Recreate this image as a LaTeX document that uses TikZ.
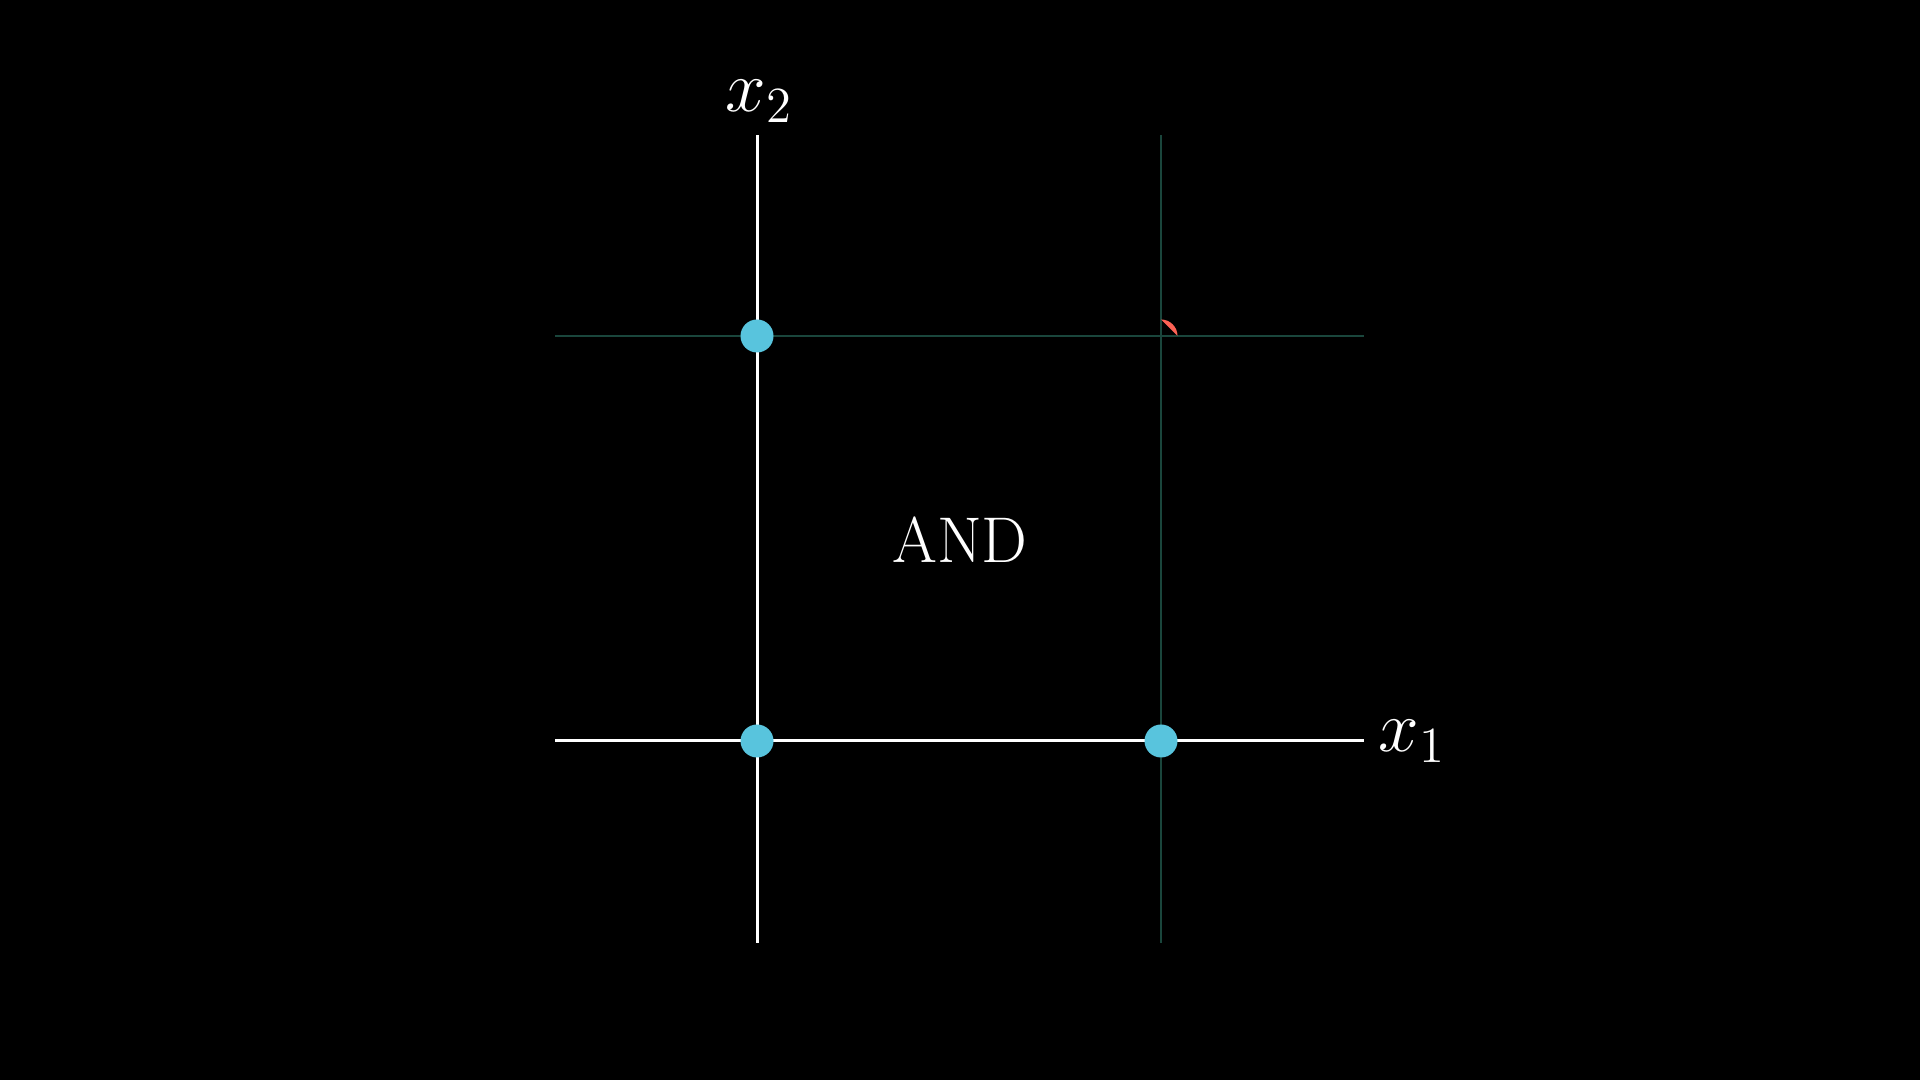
\documentclass[tikz,border=0pt]{standalone}
\usetikzlibrary{positioning}
\definecolor{dotblue}{HTML}{58C4DD}
\definecolor{dotred}{HTML}{FC6255}
\definecolor{gridgreen}{HTML}{1A463C}
\tikzset{
  axis/.style={draw=white, line width=0.85pt},
  gridline/.style={draw=gridgreen, line width=0.6pt},
  pt/.style={circle, fill=#1, inner sep=0pt, minimum size=0.33cm},
  pt/.default=dotblue,
  lbl/.style={text=white, inner sep=0pt, font=\fontsize{20}{24}\selectfont},
}

\begin{document}
\begin{tikzpicture}

  % background, 1920 x 1080
  \fill[black] (0,0) rectangle (19.2,10.8);
  \useasboundingbox (0,0) rectangle (19.2,10.8);

  % axis ends
  \coordinate (x1start) at (5.55,3.39);
  \coordinate (x1end) at (13.64,3.39);
  \coordinate (x2start) at (7.57,1.37);
  \coordinate (x2end) at (7.57,9.45);

  % grid lines through (1,1)
  \coordinate (g1start) at (11.61,1.37);
  \coordinate (g1end) at (11.61,9.45);
  \coordinate (g2start) at (5.55,7.44);
  \coordinate (g2end) at (13.64,7.44);
  \draw[gridline] (g1start) -- (g1end);
  \draw[gridline] (g2start) -- (g2end);

  % axes
  \draw[axis] (x1start) -- (x1end);
  \draw[axis] (x2start) -- (x2end);

  % labels
  \node[lbl, right=0.14cm of x1end] (x1lbl) {$x_1$};
  \node[lbl, above=0.12cm of x2end, xshift=0.02cm] (x2lbl) {$x_2$};
  \node[text=white, font=\fontsize{18.4}{22}\selectfont] (gate) at (9.6,5.4) {AND};

  % inputs
  \node[pt] (p00) at (7.57,3.39) {};
  \node[pt] (p10) at (11.61,3.39) {};
  \node[pt] (p01) at (7.57,7.44) {};
  \coordinate (p11) at (11.61,7.44);
  \fill[dotred] ([shift={(90:0.165)}]p11) arc[start angle=90, end angle=0, radius=0.165] -- cycle;

\end{tikzpicture}
\end{document}
